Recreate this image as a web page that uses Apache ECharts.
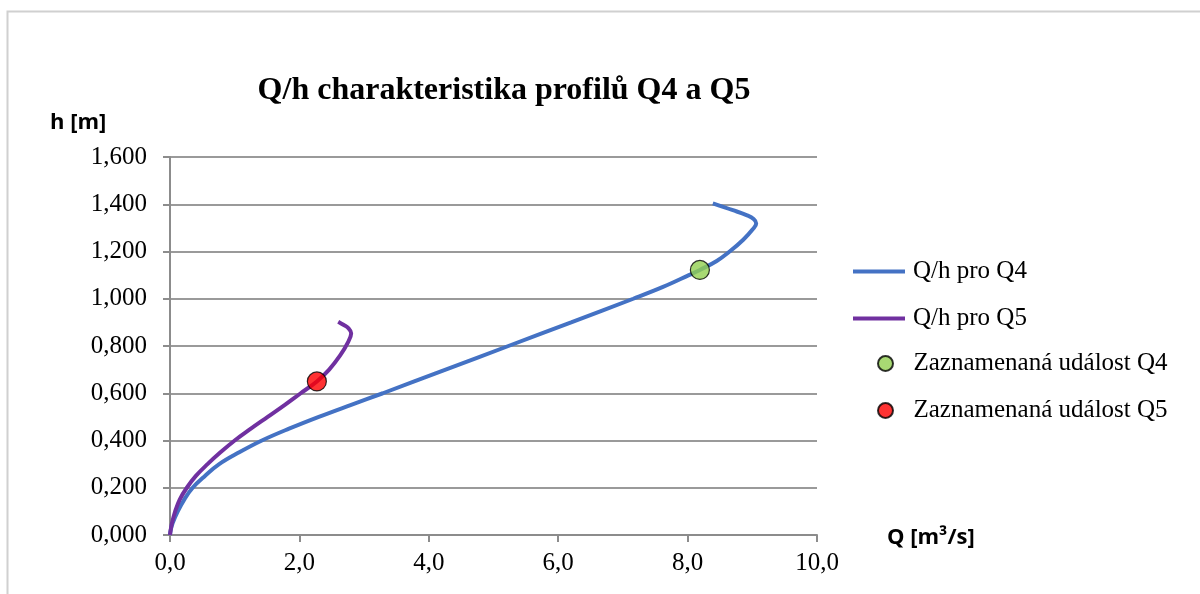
<!DOCTYPE html>
<html>
<head>
<meta charset="utf-8">
<title>Q/h charakteristika profilů Q4 a Q5</title>
<script src="https://cdn.jsdelivr.net/npm/echarts@6/dist/echarts.min.js"></script>
<style>
  html, body { margin: 0; padding: 0; background: #fff; }
  #chart { width: 1200px; height: 594px; }
</style>
</head>
<body>
<div id="chart"></div>
<script>
// Rating curve of profile Q4: [Q (m3/s), h (m)]
const curveQ4 = [
  [0.00, 0.000], [0.01, 0.020], [0.04, 0.050], [0.12, 0.100], [0.22, 0.150],
  [0.35, 0.200], [0.54, 0.250], [0.76, 0.300], [1.07, 0.350], [1.42, 0.400],
  [1.84, 0.450], [2.30, 0.500], [2.79, 0.550], [3.29, 0.600], [4.26, 0.700],
  [5.23, 0.800], [6.20, 0.900], [7.16, 1.000], [7.62, 1.050], [8.02, 1.100],
  [8.19, 1.122], [8.45, 1.160], [8.65, 1.200], [8.86, 1.250], [9.01, 1.295],
  [9.06, 1.319], [9.02, 1.338], [8.91, 1.354], [8.70, 1.375], [8.39, 1.404]
];
// Rating curve of profile Q5: [Q (m3/s), h (m)]
const curveQ5 = [
  [0.00, 0.000], [0.01, 0.020], [0.03, 0.050], [0.08, 0.100], [0.15, 0.150],
  [0.26, 0.200], [0.40, 0.250], [0.58, 0.300], [0.78, 0.350], [1.00, 0.400],
  [1.25, 0.450], [1.51, 0.500], [1.77, 0.550], [2.02, 0.600], [2.27, 0.650],
  [2.46, 0.700], [2.63, 0.760], [2.74, 0.810], [2.80, 0.854], [2.76, 0.875],
  [2.68, 0.890], [2.60, 0.903]
];
// Recorded events
const eventQ4 = [[8.19, 1.122]];
const eventQ5 = [[2.27, 0.650]];

const seriesNames = ['Q/h pro Q4', 'Q/h pro Q5', 'Zaznamenaná událost Q4', 'Zaznamenaná událost Q5'];
const chartTitle = 'Q/h charakteristika profilů Q4 a Q5';
const xAxisName = 'Q [m³/s]';
const yAxisName = 'h [m]';

const serif = '"Liberation Serif", "Times New Roman", serif';
const sans = '"Open Sans", "Liberation Sans", sans-serif';

const legendText = { fontFamily: serif, fontSize: 25, lineHeight: 22, color: '#000', padding: [0, 0, 0, 3] };

const chart = echarts.init(document.getElementById('chart'), null, { renderer: 'canvas' });

chart.setOption({
  animation: false,
  backgroundColor: '#ffffff',
  graphic: [
    {
      type: 'rect',
      shape: { x: 7.5, y: 11.5, width: 1400, height: 800 },
      style: { fill: null, stroke: '#d0d0d0', lineWidth: 2 },
      silent: true,
      z: -1
    },
    {
      type: 'text',
      left: 50, top: 112,
      style: { text: yAxisName, font: 'bold 22px ' + sans, fill: '#000' }
    },
    {
      type: 'text',
      left: 887, top: 527,
      style: { text: xAxisName, font: 'bold 22px ' + sans, fill: '#000' }
    }
  ],
  title: {
    text: chartTitle,
    left: 499,
    textAlign: 'center',
    top: 70,
    textStyle: { fontFamily: serif, fontWeight: 'bold', fontSize: 32, color: '#000' }
  },
  grid: { left: 170, top: 157, width: 647, height: 378, containLabel: false },
  legend: [
    {
      orient: 'vertical',
      left: 853,
      top: 259,
      padding: 0,
      itemWidth: 52,
      itemHeight: 4,
      itemGap: 22,
      icon: 'rect',
      textStyle: legendText,
      data: [seriesNames[0], seriesNames[1]]
    },
    {
      orient: 'vertical',
      left: 877,
      top: 351,
      padding: 0,
      itemWidth: 40,
      itemHeight: 15,
      itemGap: 22,
      icon: 'circle',
      textStyle: legendText,
      data: [seriesNames[2], seriesNames[3]]
    }
  ],
  xAxis: {
    type: 'value',
    min: 0, max: 10, interval: 2,
    axisLine: { show: true, lineStyle: { color: '#8c8c8c', width: 2 } },
    axisTick: { show: true, inside: false, length: 7, lineStyle: { color: '#8c8c8c', width: 2 } },
    splitLine: { show: false },
    axisLabel: {
      fontFamily: serif, fontSize: 25, color: '#000', margin: 16,
      formatter: v => v.toFixed(1).replace('.', ',')
    }
  },
  yAxis: {
    type: 'value',
    min: 0, max: 1.6, interval: 0.2,
    axisLine: { show: true, lineStyle: { color: '#8c8c8c', width: 2 } },
    axisTick: { show: true, inside: false, length: 7, lineStyle: { color: '#8c8c8c', width: 2 } },
    splitLine: { show: true, lineStyle: { color: '#9a9a9a', width: 2 } },
    axisLabel: {
      fontFamily: serif, fontSize: 25, color: '#000', margin: 23,
      formatter: v => v.toFixed(3).replace('.', ',')
    }
  },
  series: [
    {
      name: seriesNames[0],
      type: 'line',
      data: curveQ4,
      smooth: 0.4,
      symbol: 'none',
      lineStyle: { color: '#4472C4', width: 4 },
      itemStyle: { color: '#4472C4' },
      z: 2
    },
    {
      name: seriesNames[1],
      type: 'line',
      data: curveQ5,
      smooth: 0.4,
      symbol: 'none',
      lineStyle: { color: '#7030A0', width: 4 },
      itemStyle: { color: '#7030A0' },
      z: 3
    },
    {
      name: seriesNames[2],
      type: 'scatter',
      data: eventQ4,
      symbol: 'circle',
      symbolSize: 19,
      itemStyle: { color: '#92D050', borderColor: '#000', borderWidth: 1.2 },
      z: 5
    },
    {
      name: seriesNames[3],
      type: 'scatter',
      data: eventQ5,
      symbol: 'circle',
      symbolSize: 19,
      itemStyle: { color: '#FF0000', borderColor: '#000', borderWidth: 1.2 },
      z: 5
    }
  ]
});
</script>
</body>
</html>
